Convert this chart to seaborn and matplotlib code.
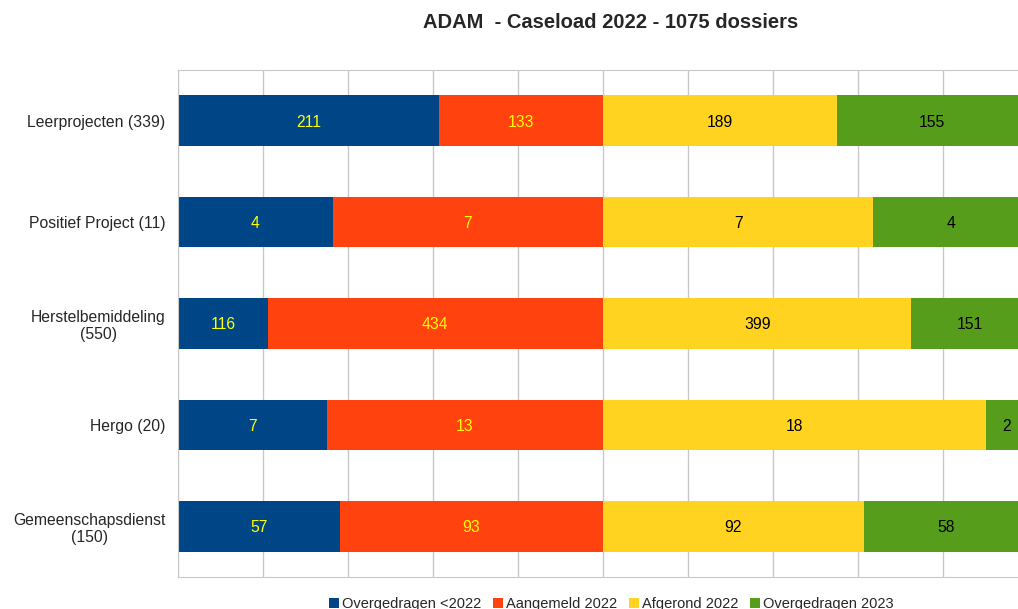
import matplotlib
matplotlib.use("Agg")
import matplotlib.pyplot as plt
import seaborn as sns
import numpy as np
import pandas as pd
from matplotlib.patches import Patch

categories = ["Leerprojecten (339)", "Positief Project (11)", "Herstelbemiddeling\n(550)",
              "Hergo (20)", "Gemeenschapsdienst\n(150)"]
overgedragen_2022 = [211, 4, 116, 7, 57]
aangemeld_2022 = [133, 7, 434, 13, 93]
afgerond_2022 = [189, 7, 399, 18, 92]
overgedragen_2023 = [155, 4, 151, 2, 58]
series_names = ["Overgedragen <2022", "Aangemeld 2022", "Afgerond 2022", "Overgedragen 2023"]
colors = ["#004586", "#ff420e", "#ffd320", "#579d1c"]
label_colors = ["#ffff00", "#ffff00", "#000000", "#000000"]

sns.set_style("white")
plt.rcParams["font.family"] = ["Liberation Sans", "DejaVu Sans"]

fig = plt.figure(figsize=(10.18, 6.09), dpi=100)
W, H = 1018, 609
ax = fig.add_axes([178 / W, 1 - 577 / H, 850 / W, 507 / H])

a = np.array(overgedragen_2022, float)
b = np.array(aangemeld_2022, float)
c = np.array(afgerond_2022, float)
d = np.array(overgedragen_2023, float)
left_tot = a + b
right_tot = c + d
pa = a / left_tot * 100
pb = b / left_tot * 100
pc = c / right_tot * 100
pd_ = d / right_tot * 100

# cumulative ends, drawn from longest to shortest so they overlay as a stack
ends = [pa, pa + pb, 100 + pc, 100 + pc + pd_]
starts = [np.zeros_like(pa), pa, np.full_like(pa, 100), 100 + pc]
raw = [a, b, c, d]

for i in [3, 2, 1, 0]:
    df = pd.DataFrame({"cat": categories, "val": ends[i]})
    sns.barplot(data=df, x="val", y="cat", orient="h", color=colors[i],
                saturation=1, width=0.5, ax=ax, linewidth=0)

for i in range(4):
    for j in range(len(categories)):
        xm = (starts[i][j] + ends[i][j]) / 2
        ax.text(xm, j, f"{int(raw[i][j])}", ha="center", va="center_baseline",
                color=label_colors[i], fontsize=11.3)

ax.set_xlim(0, 200)
ax.set_ylim(4.5, -0.5)
ax.set_xticks(np.arange(0, 201, 20))
ax.set_xticklabels([])
ax.tick_params(axis="x", length=5, color="#b3b3b3", width=1)
ax.grid(axis="x", color="#c8c8c8", linewidth=1)
ax.set_axisbelow(True)
ax.set_xlabel("")
ax.set_ylabel("")
ax.set_yticks(range(len(categories)))
ax.set_yticklabels(categories, fontsize=11.3, ha="right")
for t in ax.get_yticklabels():
    t.set_multialignment("center")
ax.tick_params(axis="y", length=0, pad=9)
ax.set_yticks(np.arange(-0.5, 4.6, 1), minor=True)
ax.tick_params(axis="y", which="minor", length=5, color="#c0c0c0", width=1)
for s in ["top", "bottom"]:
    ax.spines[s].set_visible(True)
    ax.spines[s].set_color("#c8c8c8")
ax.spines["left"].set_visible(True)
ax.spines["left"].set_color("#c8c8c8")
ax.spines["right"].set_visible(False)

fig.text(611 / W, 1 - 22 / H, "ADAM  - Caseload 2022 - 1075 dossiers", ha="center",
         va="center", fontsize=14.5, fontweight="bold")

handles = [Patch(facecolor=col, edgecolor="none") for col in colors]
fig.legend(handles, series_names, loc="center", bbox_to_anchor=(611 / W, 1 - 604 / H),
           ncol=4, frameon=False, fontsize=10.5, handlelength=0.7, handleheight=0.7,
           handletextpad=0.2, columnspacing=0.8)

fig.savefig("out.png", dpi=100)
